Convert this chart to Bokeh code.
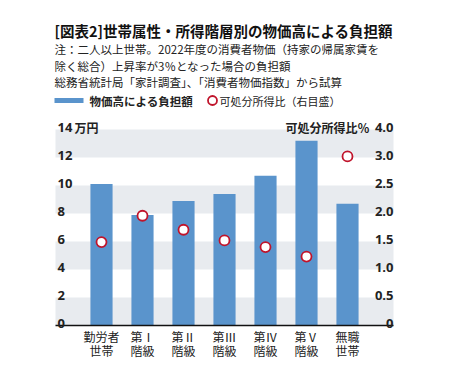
from bokeh.plotting import figure
from bokeh.models import Range1d
from bokeh.core.properties import value
from bokeh.embed import file_html
from bokeh.resources import INLINE

# ---- data ----
categories = ["勤労者\n世帯", "第Ⅰ\n階級", "第Ⅱ\n階級", "第Ⅲ\n階級", "第Ⅳ\n階級", "第Ⅴ\n階級", "無職\n世帯"]
burden = [10.1, 7.9, 8.9, 9.4, 10.7, 13.2, 8.7]          # 万円
ratio = [1.49, 1.96, 1.71, 1.52, 1.40, 1.23, 3.02]        # %
left_ticks = [0, 2, 4, 6, 8, 10, 12, 14]
left_labels = ["0", "2", "4", "6", "8", "10", "12", "14"]
right_labels = ["0", "0.5", "1.0", "1.5", "2.0", "2.5", "3.0", "4.0"]
title = "[図表2]世帯属性・所得階層別の物価高による負担額"
notes = ["注：二人以上世帯。2022年度の消費者物価（持家の帰属家賃を",
         "除く総合）上昇率が3％となった場合の負担額",
         "総務省統計局「家計調査」、「消費者物価指数」から試算"]
legend_labels = ["物価高による負担額", "可処分所得比（右目盛）"]
left_unit = "万円"
right_title = "可処分所得比％"

W, H = 449, 380
PX_X = 41.0   # px per category
PX_Y = 14.0   # px per 万円
X0, Y0 = 101.0, 325.0  # page px of first category / zero line


def dx(px):
    return (px - X0) / PX_X


def dy(py):
    return (Y0 - py) / PX_Y


JP = value("Noto Sans CJK JP")
NUM = value("Open Sans")
TXT = "#222222"

p = figure(width=W, height=H, output_backend="svg", toolbar_location=None,
           x_range=Range1d(dx(0), dx(W)), y_range=Range1d(dy(H), dy(0)),
           min_border=0, outline_line_color=None)
p.axis.visible = False
p.grid.visible = False
p.background_fill_color = "white"
p.border_fill_color = "white"

ratio_scale = 4.0
p.extra_y_ranges = {"ratio": Range1d(dy(H) / ratio_scale, dy(0) / ratio_scale)}

xl, xr = dx(55), dx(393)
# alternating bands
band_b = [t for i, t in enumerate(left_ticks[:-1]) if i % 2 == 0]
band_t = [left_ticks[i + 1] for i, t in enumerate(left_ticks[:-1]) if i % 2 == 0]
p.quad(left=xl, right=xr, bottom=band_b, top=band_t, fill_color="#e8ebef", line_color=None)

xs = list(range(len(categories)))
p.vbar(x=xs, top=burden, width=0.54, bottom=0, fill_color="#5a94cc", line_color=None)
p.line([xl, xr], [0, 0], line_color="#111111", line_width=1.5)

p.scatter(x=xs, y=ratio, y_range_name="ratio", size=10, marker="circle",
          fill_color="white", line_color="#c0142b", line_width=1.8)

# tick labels
p.text(x=[dx(57)] * len(left_ticks), y=left_ticks, text=left_labels, text_font=NUM,
       text_font_style="bold", text_font_size="13px", text_align="left",
       text_baseline="alphabetic", y_offset=-2, text_color=TXT)
p.text(x=[dx(393)] * len(left_ticks), y=left_ticks, text=right_labels, text_font=NUM,
       text_font_style="bold", text_font_size="13px", text_align="right",
       text_baseline="alphabetic", y_offset=-2, text_color=TXT)
p.text(x=[dx(74)], y=[left_ticks[-1]], text=[left_unit], text_font=JP,
       text_font_style="bold", text_font_size="12px", text_align="left",
       text_baseline="alphabetic", y_offset=-2, text_color=TXT)
p.text(x=[dx(369)], y=[left_ticks[-1]], text=[right_title], text_font=JP,
       text_font_style="bold", text_font_size="12px", text_align="right",
       text_baseline="alphabetic", y_offset=-2, text_color=TXT)

# category labels
line1 = [c.split("\n")[0] for c in categories]
line2 = [c.split("\n")[1] for c in categories]
p.text(x=xs, y=[dy(336)] * len(xs), text=line1, text_font=JP, text_font_size="12px",
       text_align="center", text_baseline="middle", text_color=TXT)
p.text(x=xs, y=[dy(350)] * len(xs), text=line2, text_font=JP, text_font_size="12px",
       text_align="center", text_baseline="middle", text_color=TXT)

# title & notes
p.text(x=[dx(54)], y=[dy(30)], text=[title], text_font=JP, text_font_style="bold",
       text_font_size="14.5px", text_align="left", text_baseline="middle", text_color="#111111")
p.text(x=[dx(54)] * 3, y=[dy(48), dy(65), dy(81.5)], text=notes, text_font=JP,
       text_font_size="11.5px", text_align="left", text_baseline="middle", text_color=TXT)

# legend
p.rect(x=[dx(68.5)], y=[dy(100)], width=29, height=5, width_units="screen",
       height_units="screen", fill_color="#5a94cc", line_color=None)
p.scatter(x=[dx(212)], y=[dy(100)], size=9, marker="circle", fill_color="white",
          line_color="#c0142b", line_width=1.8)
p.text(x=[dx(89)], y=[dy(100)], text=[legend_labels[0]], text_font=JP, text_font_style="bold",
       text_font_size="11.5px", text_align="left", text_baseline="middle", text_color=TXT)
p.text(x=[dx(219)], y=[dy(100)], text=[legend_labels[1]], text_font=JP,
       text_font_size="11px", text_align="left", text_baseline="middle", text_color=TXT)

open("out.html", "w").write(file_html(p, INLINE))
